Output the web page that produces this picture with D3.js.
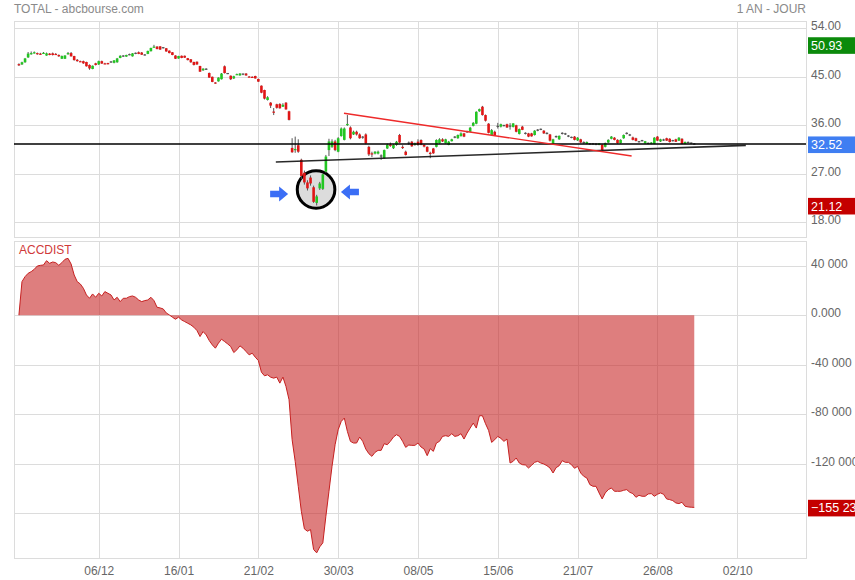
<!DOCTYPE html>
<html><head><meta charset="utf-8">
<script src="https://cdn.jsdelivr.net/npm/d3@7"></script>
<style>
html,body{margin:0;padding:0;background:#fff;}
svg{display:block;font-family:"Liberation Sans",Arial,Helvetica,sans-serif;}
</style></head><body>
<svg id="c" width="855" height="580"></svg>
<script>
// ---------- DATA ----------
const title = "TOTAL - abcbourse.com";
const period = "1 AN - JOUR";
const indicatorName = "ACCDIST";
const xTickIdx = [26,52,78,104,130,156,182,208,234];
const xTickLabels = ["06/12","16/01","21/02","30/03","08/05","15/06","21/07","26/08","02/10"];
const priceTicks = [54,45,36,27,18];
const priceTickLabels = ["54.00","45.00","36.00","27.00","18.00"];
const accTicks = [40000,0,-40000,-80000,-120000,-160000];
const accTickLabels = ["40 000","0.000","-40 000","-80 000","-120 000",""];

const open = [
47.35,47.3,47.7,48.6,49.35,49.35,49.4,49.3,49.4,48.95,
49.3,49.35,49.25,49.05,48.35,48.35,49.35,49.4,48.85,48.15,
47.9,47.9,47.75,47.2,46.45,47.5,47.3,47.9,47.5,47.55,
47.75,47.6,47.7,48.5,48.85,48.75,49.1,48.8,49.35,49.55,
49.5,49.05,49.25,49.75,50.55,50.6,50.65,50.4,50.3,49.85,
49.55,48.95,48.4,48.9,48.9,48.45,48.25,47.75,47.8,47.0,
46.2,46.4,45.7,45.0,43.95,44.15,44.55,46.95,45.6,45.2,
44.7,45.45,45.25,45.5,45.6,45.05,45.0,45.15,44.6,43.35,
42.55,40.7,40.2,38.55,39.9,39.95,39.45,40.2,38.6,31.8,
31.5,32.3,29.6,27.2,25.4,26.3,24.5,21.6,24.3,24.2,
27.4,31.4,32.0,33.0,31.1,34.0,33.3,36.1,35.6,34.3,
34.8,34.3,33.8,34.3,32.0,30.8,30.75,30.75,30.3,29.9,
31.7,32.4,31.75,32.35,34.2,32.0,31.1,32.7,32.96,32.35,
32.96,33.27,32.35,32.0,30.9,31.7,32.0,32.7,33.4,32.66,
32.35,33.05,33.8,33.6,34.0,34.5,34.8,34.8,35.9,36.3,
38.6,39.45,37.9,36.3,34.2,34.8,35.8,35.75,35.95,36.2,
35.85,35.7,36.0,34.4,35.75,34.5,34.5,34.5,34.2,35.1,
35.25,35.0,34.5,34.3,32.55,33.9,33.4,34.5,34.4,34.0,
33.75,33.9,33.2,33.4,32.8,32.55,32.55,32.55,32.5,32.35,
32.4,32.0,32.8,33.5,33.7,33.3,32.7,33.6,34.5,34.2,
33.75,33.6,32.95,33.15,32.65,32.65,32.55,32.55,33.9,33.0,
33.27,33.6,33.5,33.15,33.4,33.15,33.5,32.55,32.8,32.7,
32.52];
const high = [
47.5,47.8,48.5,49.6,49.7,49.7,49.5,49.45,49.6,49.5,
49.4,49.5,49.4,49.15,48.95,49.0,49.6,49.6,48.9,48.3,
48.0,48.0,47.8,47.3,47.1,47.6,48.0,48.0,47.6,47.6,
47.9,48.1,48.5,49.0,49.0,49.1,49.3,49.4,49.5,49.7,
49.6,49.2,49.85,50.4,50.93,50.7,50.7,50.5,50.35,49.9,
49.6,49.0,48.9,48.95,48.95,48.5,48.3,47.8,47.85,47.05,
46.6,46.6,45.8,45.05,44.0,44.9,45.7,47.1,45.7,45.25,
45.2,45.6,45.7,45.6,45.7,45.15,45.1,45.2,44.65,43.4,
42.6,41.4,40.3,39.2,40.0,40.1,40.1,40.3,38.7,33.6,
33.9,33.4,29.8,27.6,25.8,26.7,24.8,23.1,25.5,27.0,
30.5,33.5,33.4,33.3,33.8,35.6,35.6,37.9,35.8,35.0,
35.0,34.5,34.0,34.5,32.2,31.1,31.2,31.3,30.6,31.5,
32.6,32.8,32.5,33.1,34.4,32.3,31.3,33.0,33.1,32.8,
33.4,33.4,32.5,32.1,31.1,31.8,33.4,33.6,33.6,33.5,
33.1,33.5,34.0,34.3,34.7,34.6,35.0,35.7,36.6,38.6,
39.1,39.6,38.0,36.4,35.3,35.0,36.45,36.3,36.1,36.3,
36.4,36.4,36.1,35.4,35.9,34.7,34.6,34.6,35.1,35.3,
35.4,35.1,34.7,34.4,33.5,34.1,34.1,34.7,34.6,34.2,
33.9,34.0,33.8,33.5,33.0,33.0,32.7,32.7,32.7,32.7,
32.5,32.8,33.4,34.0,33.8,33.4,33.4,34.3,34.7,34.4,
33.9,33.7,33.1,33.3,33.1,32.8,32.9,33.8,34.0,33.5,
33.5,33.7,33.6,33.3,33.5,33.8,33.6,33.0,33.0,32.8,
32.7];
const low = [
47.0,47.2,47.6,48.5,49.1,49.3,49.1,49.1,49.3,48.9,
49.0,48.95,49.1,48.7,48.3,48.3,49.1,48.75,48.0,47.8,
47.75,47.4,46.9,46.3,46.4,47.1,47.2,47.4,47.35,47.3,
47.6,47.5,47.6,48.45,48.7,48.7,49.0,48.75,49.2,49.2,
49.05,48.95,49.2,49.7,50.45,50.1,50.0,50.25,49.65,49.35,
49.0,48.3,48.35,48.45,48.5,48.05,47.6,47.1,47.2,45.9,
46.1,46.3,44.8,44.0,43.7,44.1,44.5,45.6,45.5,44.4,
44.6,45.35,45.2,45.3,45.2,44.95,44.9,44.65,44.05,41.95,
40.8,40.6,39.2,37.9,39.1,39.1,39.4,38.9,36.9,30.9,
30.9,30.9,26.0,25.0,23.9,24.8,21.6,21.12,24.0,24.0,
27.2,30.3,31.8,31.2,31.0,33.9,33.2,35.9,33.4,34.2,
34.1,33.5,33.5,32.5,30.3,30.1,30.6,30.6,29.6,29.8,
31.6,32.0,31.6,32.2,32.7,31.6,30.4,32.4,32.0,32.2,
32.2,32.3,31.9,31.0,29.9,30.7,31.9,32.6,32.9,32.6,
32.3,33.0,33.6,33.5,33.9,33.8,34.6,34.7,35.8,36.2,
38.5,37.8,36.7,34.5,34.1,34.0,35.4,35.6,35.8,35.5,
35.2,35.6,34.7,34.3,35.1,34.3,33.8,33.9,34.1,34.9,
35.1,34.4,34.3,33.0,32.4,33.7,33.3,34.3,34.2,33.8,
33.6,33.2,33.1,32.7,32.6,32.5,32.4,32.4,32.3,32.3,
31.3,31.9,32.7,33.4,33.2,32.6,32.6,33.5,34.3,34.0,
33.2,33.0,32.8,33.0,32.6,32.5,32.5,32.5,33.1,32.9,
33.1,33.1,32.8,33.0,32.9,33.1,32.5,32.5,32.7,32.6,
32.45];
const close = [
47.25,47.7,48.4,49.3,49.4,49.55,49.2,49.25,49.45,49.35,
49.05,49.05,49.2,48.8,48.85,48.95,49.4,48.8,48.1,47.9,
47.85,47.5,46.95,46.55,47.05,47.2,47.9,47.45,47.45,47.4,
47.75,48.05,48.4,48.9,48.85,49.05,49.1,49.35,49.35,49.25,
49.1,49.05,49.8,50.35,50.6,50.15,50.05,50.4,49.7,49.4,
49.05,48.35,48.85,48.5,48.55,48.1,47.7,47.2,47.3,45.95,
46.5,46.4,44.85,44.05,43.85,44.85,45.6,45.7,45.6,44.55,
45.1,45.5,45.6,45.5,45.25,45.0,44.95,44.7,44.1,42.05,
40.95,41.2,39.65,38.5,39.25,39.15,39.8,38.95,37.0,31.0,
31.6,31.1,26.6,25.4,24.3,25.2,21.8,22.8,25.2,26.9,
30.2,33.0,33.0,31.4,33.6,35.4,35.4,36.25,33.6,34.8,
34.3,33.6,33.8,32.66,30.6,30.75,31.1,31.1,30.3,31.4,
32.4,32.35,32.35,32.95,32.8,31.95,30.5,32.7,32.1,32.66,
32.35,32.4,32.05,31.1,30.85,30.8,33.27,33.4,33.0,33.4,
32.96,33.4,33.8,34.2,34.5,33.9,34.8,35.55,36.45,38.5,
39.0,37.9,36.85,34.6,35.1,34.1,35.8,36.2,35.95,35.6,
35.85,36.35,34.8,35.3,35.15,34.5,33.9,33.95,35.0,35.1,
35.25,34.5,34.5,33.15,33.4,33.9,34.05,34.5,34.4,34.0,
33.75,33.3,33.7,32.8,32.8,32.9,32.55,32.55,32.5,32.65,
31.4,32.7,33.3,33.9,33.3,32.7,33.3,34.2,34.5,34.2,
33.3,33.1,32.95,33.15,33.05,32.65,32.8,33.7,33.15,33.4,
33.27,33.15,32.9,33.15,32.95,33.7,32.55,32.9,32.8,32.7,
32.52];
const accdist = [
0,27120,31160,33850,35190,37070,39760,40300,40570,44060,
41910,42990,42450,40300,42450,45140,45950,41370,32500,27120,
25240,21750,16370,13690,17180,14490,17720,15560,19060,17720,
16370,12340,14490,10990,13690,13690,15020,15560,14490,12340,
10990,11800,12340,14490,11800,6430,5890,5080,1850,240,
-1580,-3250,-1580,-3790,-5140,-6480,-7820,-9700,-12400,-17230,
-13200,-15890,-20460,-23960,-26640,-22600,-19380,-21260,-23150,-25300,
-30140,-27980,-24760,-26640,-29330,-32020,-30670,-33900,-36590,-46000,
-48950,-48140,-50020,-50830,-50020,-54860,-50020,-57550,-68300,-100560,
-118030,-138190,-158350,-172590,-174480,-173130,-189260,-191950,-187110,-183880,
-162380,-142220,-122060,-104590,-92490,-85770,-83080,-93840,-101900,-103240,
-103240,-98410,-101900,-108080,-111850,-114000,-110770,-109160,-109160,-103780,
-104590,-101900,-98410,-96520,-97870,-101900,-106740,-104860,-105130,-105130,
-103240,-106470,-108080,-113460,-107810,-109960,-103240,-101900,-97870,-97330,
-97870,-95720,-97870,-97330,-95720,-100020,-95180,-91150,-87120,-91150,
-81200,-81200,-87650,-93030,-102710,-100560,-97870,-99480,-101900,-100020,
-119370,-118030,-115340,-119370,-120720,-120980,-123400,-121250,-118830,-118030,
-119370,-120180,-121520,-123400,-127440,-123140,-121520,-117490,-118830,-118830,
-120720,-123670,-122060,-127440,-130120,-131470,-136840,-138190,-138190,-143560,
-148400,-143560,-140880,-139530,-142220,-142220,-142220,-141410,-140880,-143030,
-144100,-147060,-145450,-146250,-146250,-144370,-144100,-146250,-144640,-143560,
-144640,-148400,-148940,-149750,-151630,-152170,-151090,-154320,-154850,-155100,
-155237];

// annotations (index, price)
const lastPrice = 32.52, maxHigh = 50.93, minLow = 21.12, lastAcc = -155237;
const supportLine = [[83.7,29.19],[236.8,32.27]];
const resistLine = [[105.9,38.23],[199.6,30.3]];
const circleCenter = [96.8,24.09];
const arrowRightTip = [87.7,23.25];
const arrowLeftTip = [104.9,23.62];

// ---------- CHART ----------
const svg = d3.select("#c");
const L = 14, R = 806;
const x = d3.scaleLinear().domain([-1.6,256.4]).range([L,R]);
const yP = d3.scaleLinear().domain([18,54]).range([222.3,28.3]);
const yA = d3.scaleLinear().domain([-160000,40000]).range([513.3,265.7]);
const gridCol = "#dcdcdc";
const top1 = 21.5, bot1 = 237.5, top2 = 241.5, bot2 = 558.5;

function panelGrid(t,b,yScale,ticks){
  const g = svg.append("g");
  g.selectAll(".v").data(xTickIdx).enter().append("line")
    .attr("x1",d=>Math.round(x(d))+0.5).attr("x2",d=>Math.round(x(d))+0.5)
    .attr("y1",t).attr("y2",b).attr("stroke",gridCol);
  g.selectAll(".h").data(ticks).enter().append("line")
    .attr("x1",L).attr("x2",R)
    .attr("y1",d=>Math.round(yScale(d))+0.5).attr("y2",d=>Math.round(yScale(d))+0.5)
    .attr("stroke",gridCol);
  g.append("rect").attr("x",L+0.5).attr("y",t).attr("width",R-L).attr("height",b-t)
    .attr("fill","none").attr("stroke",gridCol);
}
panelGrid(top1,bot1,yP,priceTicks);
panelGrid(top2,bot2,yA,accTicks);

svg.append("text").attr("x",14).attr("y",13).attr("font-size",12).attr("fill","#8a8a8a").text(title);
svg.append("text").attr("x",806).attr("y",13).attr("font-size",12).attr("fill","#8a8a8a").attr("text-anchor","end").text(period);
svg.append("text").attr("x",19).attr("y",254).attr("font-size",12).attr("fill","#d03a3a").text(indicatorName);

function styleAxis(g){ g.select(".domain").remove(); g.selectAll("text").attr("fill","#666").attr("font-size",12).attr("font-family","'Liberation Sans',Arial,sans-serif"); }
svg.append("g").attr("transform","translate(811,-2.5)")
  .call(d3.axisRight(yP).tickValues(priceTicks).tickFormat((d,i)=>priceTickLabels[i]).tickSize(0).tickPadding(0))
  .call(styleAxis);
svg.append("g").attr("transform","translate(811,-2.5)")
  .call(d3.axisRight(yA).tickValues(accTicks).tickFormat((d,i)=>accTickLabels[i]).tickSize(0).tickPadding(0))
  .call(styleAxis);
svg.append("g").attr("transform","translate(0,566)")
  .call(d3.axisBottom(x).tickValues(xTickIdx).tickFormat((d,i)=>xTickLabels[i]).tickSize(0).tickPadding(0))
  .call(styleAxis);

const area = d3.area().x((d,i)=>x(i)).y0(yA(0)).y1(d=>yA(d));
const line = d3.line().x((d,i)=>x(i)).y(d=>yA(d));
svg.append("path").datum(accdist).attr("d",area).attr("fill","rgb(200,40,40)").attr("fill-opacity",0.6);
svg.append("path").datum(accdist).attr("d",line).attr("fill","none").attr("stroke","#c62020").attr("stroke-width",1);

svg.append("circle").attr("cx",x(circleCenter[0])).attr("cy",yP(circleCenter[1])).attr("r",18.8)
  .attr("fill","#dcdcdc").attr("stroke","#000").attr("stroke-width",3);

const idx = d3.range(close.length);
const gC = svg.append("g");
gC.selectAll(".w").data(idx).enter().append("line")
  .attr("x1",i=>x(i)).attr("x2",i=>x(i))
  .attr("y1",i=>yP(Math.max(high[i],open[i],close[i])))
  .attr("y2",i=>yP(Math.min(low[i],open[i],close[i])))
  .attr("stroke","#555").attr("stroke-width",1);
gC.selectAll(".b").data(idx).enter().append("rect")
  .attr("x",i=>x(i)-1.3).attr("width",2.6)
  .attr("y",i=>yP(Math.max(open[i],close[i])) - (Math.abs(open[i]-close[i])<0.01?0.6:0))
  .attr("height",i=>Math.max(1.2,Math.abs(yP(open[i])-yP(close[i]))))
  .attr("fill",i=>Math.abs(open[i]-close[i])<0.01?"#555":(close[i]>open[i]?"#22c622":"#e01616"));

svg.append("line").attr("x1",L).attr("x2",R).attr("y1",yP(lastPrice)).attr("y2",yP(lastPrice))
  .attr("stroke","#000").attr("stroke-width",1.4);
svg.append("line").attr("x1",x(supportLine[0][0])).attr("y1",yP(supportLine[0][1]))
  .attr("x2",x(supportLine[1][0])).attr("y2",yP(supportLine[1][1]))
  .attr("stroke","#111").attr("stroke-width",1.6).attr("stroke-opacity",0.9);
svg.append("line").attr("x1",x(resistLine[0][0])).attr("y1",yP(resistLine[0][1]))
  .attr("x2",x(resistLine[1][0])).attr("y2",yP(resistLine[1][1]))
  .attr("stroke","#ee2a2a").attr("stroke-width",1.4);

function arrow(tx,ty,dir){
  const p = [[0,0],[-9,-7.5],[-9,-3.2],[-18,-3.2],[-18,3.2],[-9,3.2],[-9,7.5]]
    .map(([a,b])=>[tx+dir*a,ty+b]);
  svg.append("path").attr("d","M"+p.map(q=>q.join(",")).join("L")+"Z").attr("fill","#3b6ef5");
}
arrow(x(arrowRightTip[0]),yP(arrowRightTip[1]),1);
arrow(x(arrowLeftTip[0]),yP(arrowLeftTip[1]),-1);

function badge(yv,label,col){
  svg.append("rect").attr("x",808).attr("y",yv-7.6).attr("width",60).attr("height",16.6).attr("fill",col);
  svg.append("text").attr("x",811).attr("y",yv+0.7).attr("dy","0.35em").attr("font-size",12.5)
    .attr("fill","#fff").text(label);
}
badge(yP(maxHigh),maxHigh.toFixed(2),"#0b8a0b");
badge(yP(lastPrice),lastPrice.toFixed(2),"#3f7ef2");
badge(yP(minLow),minLow.toFixed(2),"#c40000");
badge(yA(lastAcc),d3.format(",")(lastAcc).replace(/,/g," "),"#c40000");
</script>
</body></html>
